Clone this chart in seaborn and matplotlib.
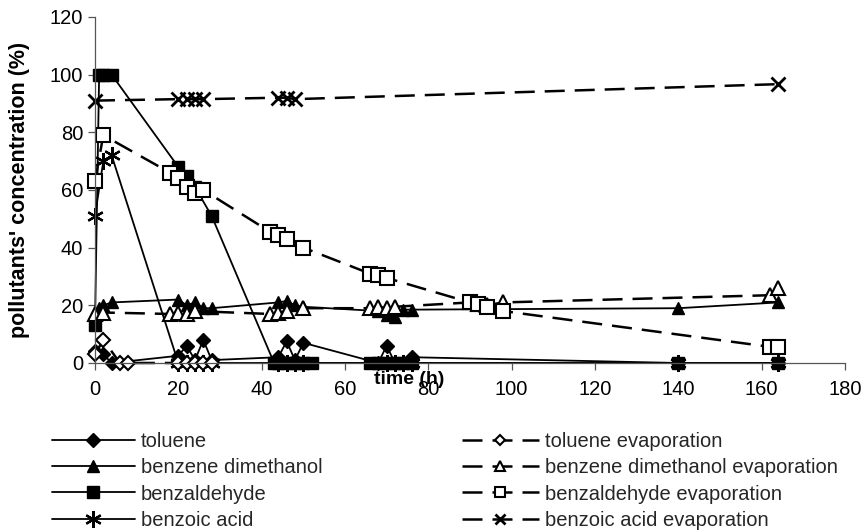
"""plot.py - pollutants' concentration vs time, photocatalysis vs evaporation."""
import matplotlib
matplotlib.use("Agg")
import matplotlib.pyplot as plt
import seaborn as sns

# toluene (photocatalysis)
toluene_t = [0, 2, 4, 20, 22, 24, 26, 28, 44, 46, 48, 50, 68, 70, 72, 74, 76, 140, 164]
toluene_c = [4, 3, 0, 2.5, 6, 1, 8, 1, 2, 7.5, 1, 7, 0, 6, 0, 0, 2, 0, 0]

# toluene evaporation
toluene_ev_t = [0, 2, 6, 8, 20, 22, 24, 26, 28]
toluene_ev_c = [3, 8, 0, 0, 0, 0, 0, 0, 0]

# benzene dimethanol
bdm_t = [0, 1, 2, 4, 20, 22, 24, 26, 28, 44, 46, 48, 50, 68, 70, 72, 74, 76, 140, 164]
bdm_c = [17, 19, 20, 21, 22, 20, 21, 19, 19, 21, 21.5, 20, 19.5, 18, 16.5, 16, 18.5, 18.5, 19, 21]

# benzene dimethanol evaporation
bdm_ev_t = [0, 2, 18, 20, 22, 24, 42, 44, 46, 50, 66, 68, 70, 72, 90, 92, 94, 98, 162, 164]
bdm_ev_c = [17, 17.5, 17, 17.5, 17, 18, 17, 17.5, 18, 19, 19, 19.5, 19, 19.5, 21, 20.5, 20, 21, 23.5, 26]

# benzaldehyde
bzald_t = [0, 1, 2, 4, 20, 22, 24, 28, 43, 44, 46, 48, 50, 52, 66, 68, 70, 72, 74, 76, 140, 164]
bzald_c = [13, 100, 100, 100, 68, 65, 61, 51, 0, 0, 0, 0, 0, 0, 0, 0, 0, 0, 0, 0, 0, 0]

# benzaldehyde evaporation
bzald_ev_t = [0, 2, 18, 20, 22, 24, 26, 42, 44, 46, 50, 66, 68, 70, 90, 92, 94, 98, 162, 164]
bzald_ev_c = [63, 79, 66, 64, 61, 59, 60, 45.5, 44.5, 43, 40, 31, 30.5, 29.5, 21, 20.5, 19.5, 18, 5.6, 5.6]

# benzoic acid
bzacid_t = [0, 2, 4, 20, 22, 24, 26, 28, 44, 46, 48, 50, 70, 72, 74, 76, 140, 164]
bzacid_c = [51, 70, 72, 0, 0, 0, 0, 0, 0, 0, 0, 0, 0, 0, 0, 0, 0, 0]

# benzoic acid evaporation
bzacid_ev_t = [0, 20, 22, 24, 26, 44, 46, 48, 164]
bzacid_ev_c = [91, 91.5, 91.5, 91.5, 91.5, 92, 92, 91.5, 96.7]

x_ticks = [0, 20, 40, 60, 80, 100, 120, 140, 160, 180]
y_ticks = [0, 20, 40, 60, 80, 100, 120]

sns.set_theme(style="white")
plt.rcParams["font.family"] = ["Liberation Sans", "DejaVu Sans"]
plt.rcParams["font.size"] = 14

fig = plt.figure(figsize=(8.65, 5.32), dpi=100)
ax = fig.add_axes([0.1098, 0.3177, 0.867, 0.6504])

DASH = (0, (8, 4))
solid_kw = dict(color="black", linewidth=1.3, linestyle="-", markeredgecolor="black",
                markerfacecolor="black", markeredgewidth=1.0)
open_kw = dict(color="black", linewidth=1.8, linestyle=DASH, markeredgecolor="black",
               markerfacecolor="white", markeredgewidth=1.5)

series = [
    (toluene_t, toluene_c, "toluene", "D", 7, solid_kw),
    (bdm_t, bdm_c, "benzene dimethanol", "^", 9, solid_kw),
    (bzald_t, bzald_c, "benzaldehyde", "s", 9, solid_kw),
    (bzacid_t, bzacid_c, "benzoic acid", (6, 2, 0), 12, dict(solid_kw, markeredgewidth=1.6)),
    (toluene_ev_t, toluene_ev_c, "toluene evaporation", "D", 7, open_kw),
    (bdm_ev_t, bdm_ev_c, "benzene dimethanol evaporation", "^", 10, open_kw),
    (bzald_ev_t, bzald_ev_c, "benzaldehyde evaporation", "s", 10, open_kw),
    (bzacid_ev_t, bzacid_ev_c, "benzoic acid evaporation", "x", 10, dict(open_kw, markeredgewidth=2.0)),
]

for t, c, name, mk, ms, kw in series:
    sns.lineplot(x=t, y=c, ax=ax, marker=mk, markersize=ms, estimator=None,
                 sort=False, label=name, clip_on=False, **kw)

handles, labels = ax.get_legend_handles_labels()
ax.get_legend().remove()

ax.set_xlim(0, 180)
ax.set_ylim(0, 120)
ax.set_xticks(x_ticks)
ax.set_yticks(y_ticks)
for side in ["top", "right"]:
    ax.spines[side].set_visible(False)
for side in ["left", "bottom"]:
    ax.spines[side].set_color("#555555")
    ax.spines[side].set_linewidth(0.9)
ax.tick_params(axis="both", direction="out", length=5, width=0.9, color="#555555",
               labelsize=14.5, labelcolor="black", bottom=True, left=True)
ax.tick_params(axis="x", pad=7)

# the x label sits over the tick labels, as in the original figure
ax.set_xlabel("time (h)", fontsize=14, fontweight="bold", color="black")
ax.xaxis.set_label_coords(0.419, -0.047)
ax.xaxis.label.set_va("center")
ax.set_ylabel("pollutants' concentration (%)", fontsize=15.5, fontweight="bold", color="black")
ax.yaxis.set_label_coords(-0.1, 0.5)
ax.yaxis.label.set_va("center")

leg_kw = dict(frameon=False, fontsize=14.5, handletextpad=0.3, labelspacing=0.36,
              borderaxespad=0, borderpad=0)
leg1 = fig.legend(handles[:4], labels[:4], loc="upper left",
                  bbox_to_anchor=(52 / 865, 1 - 432 / 532), handlelength=4.1, **leg_kw)
leg2 = fig.legend(handles[4:], labels[4:], loc="upper left", markerscale=0.75,
                  bbox_to_anchor=(462 / 865, 1 - 432 / 532), handlelength=3.8, **leg_kw)

fig.savefig("out.png", dpi=100)
